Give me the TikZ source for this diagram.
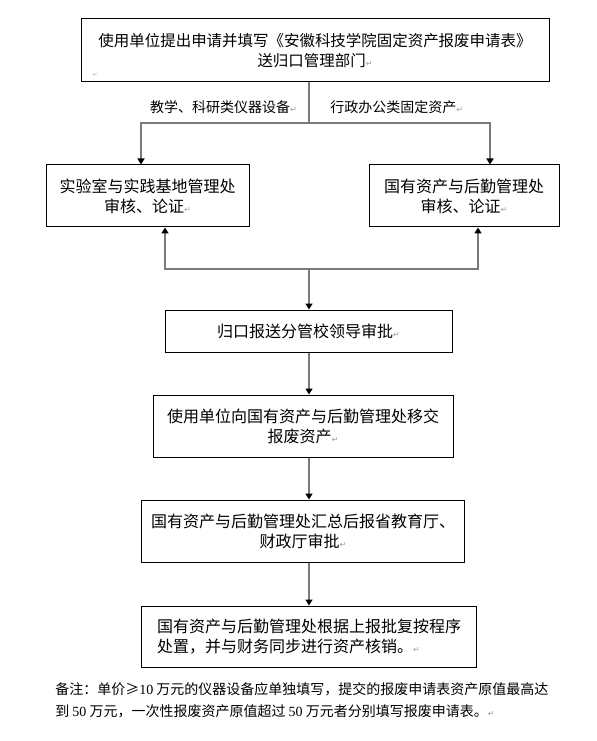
\documentclass[tikz,border=0pt]{standalone}
\usepackage{fontspec}
\usepackage{xcolor}
\usepackage{tikz}
\usetikzlibrary{arrows.meta,positioning}
\setmainfont{Noto Sans CJK SC}
\newfontfamily\symfont{DejaVu Sans}
\newfontfamily\numfont{Liberation Serif}
\definecolor{linegray}{HTML}{7A7A7A}
\definecolor{markgray}{HTML}{9A9A9A}
\newcommand{\retmark}{{\symfont\fontsize{6pt}{6pt}\selectfont\textcolor{markgray}{↵}}}

\begin{document}
\begin{tikzpicture}[x=0.75pt,y=-0.75pt,every node/.style={font=\fontsize{12pt}{15pt}\selectfont,align=center},box/.style={draw=black,line width=0.75pt,inner sep=2pt},tag/.style={font=\fontsize{10.5pt}{13pt}\selectfont,inner sep=0pt},wire/.style={draw=linegray,line width=1.2pt},arr/.style={wire,-{Triangle[length=4.5pt,width=5.25pt,color=black]}}]
\useasboundingbox (0,0) rectangle (596,741);
\node[box,minimum width=351pt,minimum height=47.25pt,font=\fontsize{11.6pt}{15.5pt}\selectfont] (apply) at (315,50.5) {使用单位提出申请并填写《安徽科技学院固定资产报废申请表》\\送归口管理部门\retmark};
\node[inner sep=0pt,font=\fontsize{4pt}{4pt}\selectfont] (blank) at (95,75) {\textcolor{markgray}{\symfont ↵}};
\node[box,minimum width=152.25pt,minimum height=46.5pt] (lab) at (147.5,196) {实验室与实践基地管理处\\审核、论证\retmark};
\node[box,minimum width=142.5pt,minimum height=46.5pt] (state) at (464,196) {国有资产与后勤管理处\\审核、论证\retmark};
\node[box,minimum width=215.25pt,minimum height=31.5pt] (leader) at (308.5,331) {归口报送分管校领导审批\retmark};
\node[box,minimum width=225pt,minimum height=46.5pt,below=31.5pt of leader,xshift=-4.1pt] (transfer) {使用单位向国有资产与后勤管理处移交\\报废资产\retmark};
\node[box,minimum width=242.25pt,minimum height=46.5pt,below=31.5pt of transfer] (report) {国有资产与后勤管理处汇总后报省教育厅、\\财政厅审批\retmark};
\node[box,minimum width=251.25pt,minimum height=45.75pt,below=32.25pt of report,xshift=4.5pt,align=left] (dispose) {国有资产与后勤管理处根据上报批复按程序\\处置，并与财务同步进行资产核销。\retmark};
% branch and merge points
\coordinate (split) at (309,123);
\coordinate (merge) at (309,269);
\node[tag,anchor=east] (teach) at ([xshift=-9pt,yshift=12pt]split) {教学、科研类仪器设备\retmark};
\node[tag,anchor=west] (admin) at ([xshift=15.75pt,yshift=12pt]split) {行政办公类固定资产\retmark};
\draw[wire] (apply.south -| split) -- (split);
\draw[arr] (split) -| ([xshift=-4.875pt]lab.north);
\draw[arr] (split) -| ([xshift=19.5pt]state.north);
\draw[arr] (merge) -| ([xshift=13.125pt]lab.south);
\draw[arr] (merge) -| ([xshift=10.5pt]state.south);
\draw[arr] (merge) -- (merge |- leader.north);
\draw[arr] (leader.south -| merge) -- (transfer.north -| merge);
\draw[arr] (transfer.south -| merge) -- (report.north -| merge);
\draw[arr] (report.south -| merge) -- (dispose.north -| merge);
\node[anchor=north west,align=left,inner sep=0pt,font=\fontsize{10.5pt}{16.5pt}\selectfont] (note) at (55,682) {备注：单价≥{\numfont 10} 万元的仪器设备应单独填写，提交的报废申请表资产原值最高达\\到 {\numfont 50} 万元，一次性报废资产原值超过 {\numfont 50} 万元者分别填写报废申请表。\retmark};
\end{tikzpicture}
\end{document}
